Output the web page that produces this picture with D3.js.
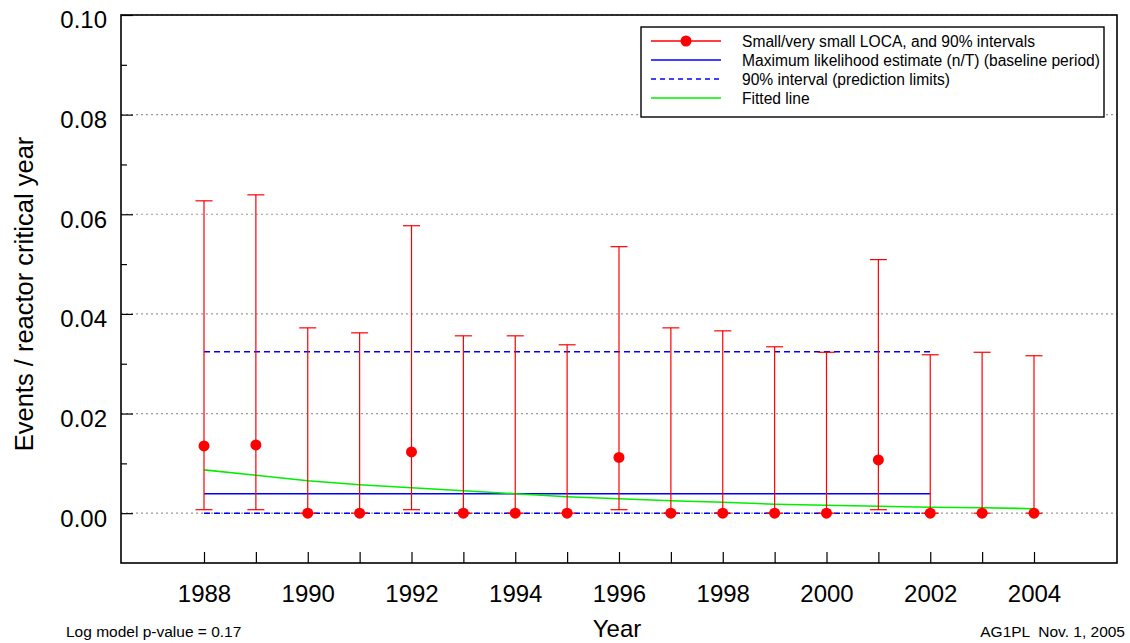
<!DOCTYPE html>
<html>
<head>
<meta charset="utf-8">
<script src="https://cdn.jsdelivr.net/npm/d3@7"></script>
<style>
  body { margin: 0; background: #fff; }
  svg, svg text { font-family: "Liberation Sans", Arial, sans-serif; }
</style>
</head>
<body>
<div id="chart"></div>
<script>
/* data */
const years = [1988, 1989, 1990, 1991, 1992, 1993, 1994, 1995, 1996, 1997, 1998, 1999, 2000, 2001, 2002, 2003, 2004];
const rates = [0.0135, 0.0137, 0, 0, 0.0123, 0, 0, 0, 0.0112, 0, 0, 0, 0, 0.0107, 0, 0, 0];
const upper = [0.0627, 0.0639, 0.0372, 0.0362, 0.0577, 0.0356, 0.0356, 0.0338, 0.0535, 0.0372, 0.0366, 0.0334, 0.0323, 0.0509, 0.0318, 0.0323, 0.0316];
const lower = [0.0007, 0.0007, 0, 0, 0.0007, 0, 0, 0, 0.0007, 0, 0, 0, 0, 0.0007, 0, 0, 0];
const fitted = [0.0087, 0.0076, 0.0065, 0.0057, 0.0051, 0.0045, 0.0039, 0.0033, 0.0029, 0.0025, 0.0022, 0.0018, 0.0016, 0.0014, 0.0012, 0.0011, 0.0009];
const baseline = [1988, 2002];
const mle = 0.0039;
const predLimits = [0, 0.0324];
const yTicks = [0, 0.02, 0.04, 0.06, 0.08, 0.10];
const yMinor = [0.01, 0.03, 0.05, 0.07, 0.09];
const xLabels = [1988, 1990, 1992, 1994, 1996, 1998, 2000, 2002, 2004];
const legendItems = [
  "Small/very small LOCA, and 90% intervals",
  "Maximum likelihood estimate (n/T) (baseline period)",
  "90% interval (prediction limits)",
  "Fitted line"
];

const width = 1130, height = 643;
const plot = { left: 121, top: 15, right: 1117, bottom: 563 };
const fontFamily = '"Liberation Sans", Arial, sans-serif';

var svg = d3.select("#chart").append("svg")
  .attr("width", width)
  .attr("height", height);

/* Scales */
var x = d3.scaleLinear().domain([1986.4, 2005.6]).range([plot.left, plot.right]);
var y = d3.scaleLinear().domain([-0.01, 0.10]).range([plot.bottom, plot.top]);

/* Grid */
svg.append("g")
  .selectAll("line")
  .data(yTicks).enter()
  .append("line")
  .attr("x1", plot.left).attr("x2", plot.right)
  .attr("y1", d => y(d)).attr("y2", d => y(d))
  .style("stroke", "#999")
  .style("stroke-width", 1.2)
  .style("stroke-dasharray", "2,3");

/* Axes */
var yAxis = d3.axisLeft(y).tickValues(yTicks).tickFormat(d3.format(".2f")).tickSize(-12).tickPadding(14);
var yAxisMinor = d3.axisLeft(y).tickValues(yMinor).tickFormat("").tickSize(-6);
var xAxis = d3.axisBottom(x).tickValues(years).tickSize(-11).tickPadding(22)
  .tickFormat(d => xLabels.includes(d) ? d : "");

var gy = svg.append("g").attr("transform", `translate(${plot.left},0)`).call(yAxis);
svg.append("g").attr("transform", `translate(${plot.left},0)`).call(yAxisMinor);
var gx = svg.append("g").attr("transform", `translate(0,${plot.bottom})`).call(xAxis);

svg.selectAll(".domain").remove();
svg.selectAll(".tick line").style("stroke", "#000").style("stroke-width", 1.2);
gy.attr("font-family", fontFamily).attr("font-size", 24);
gx.attr("font-family", fontFamily).attr("font-size", 24);
gy.selectAll("text").attr("fill", "#000").attr("dy", "0.54em");
gx.selectAll("text").attr("fill", "#000");

/* Baseline lines */
svg.append("line")
  .attr("x1", x(baseline[0])).attr("x2", x(baseline[1]))
  .attr("y1", y(mle)).attr("y2", y(mle))
  .style("stroke", "#0000ff").style("stroke-width", 1.6);

svg.selectAll(".pred")
  .data(predLimits).enter()
  .append("line")
  .attr("class", "pred")
  .attr("x1", x(baseline[0])).attr("x2", x(baseline[1]))
  .attr("y1", d => y(d)).attr("y2", d => y(d))
  .style("stroke", "#0000ff").style("stroke-width", 1.6)
  .style("stroke-dasharray", "6,4");

/* Fitted line */
var line = d3.line()
  .x((d, i) => x(years[i]))
  .y(d => y(d));

svg.append("path")
  .attr("d", line(fitted))
  .style("fill", "none")
  .style("stroke", "#00ee00")
  .style("stroke-width", 1.6);

/* Error bars */
var bars = svg.append("g").selectAll("g")
  .data(years).enter()
  .append("g")
  .style("stroke", "#ff0000")
  .style("stroke-width", 1.2);

bars.append("line")
  .attr("x1", d => x(d)).attr("x2", d => x(d))
  .attr("y1", (d, i) => y(lower[i])).attr("y2", (d, i) => y(upper[i]));
bars.append("line")
  .attr("x1", d => x(d) - 8.5).attr("x2", d => x(d) + 8.5)
  .attr("y1", (d, i) => y(upper[i])).attr("y2", (d, i) => y(upper[i]));
bars.append("line")
  .attr("x1", d => x(d) - 8.5).attr("x2", d => x(d) + 8.5)
  .attr("y1", (d, i) => y(lower[i])).attr("y2", (d, i) => y(lower[i]));

svg.append("g").selectAll("circle")
  .data(rates).enter()
  .append("circle")
  .attr("cx", (d, i) => x(years[i]))
  .attr("cy", d => y(d))
  .attr("r", 5.5)
  .style("fill", "#ff0000");

/* Frame */
svg.append("rect")
  .attr("x", plot.left).attr("y", plot.top)
  .attr("width", plot.right - plot.left).attr("height", plot.bottom - plot.top)
  .style("fill", "none")
  .style("stroke", "#000")
  .style("stroke-width", 1.6);

/* Legend */
var legend = svg.append("g").attr("transform", "translate(641,27)");
legend.append("rect")
  .attr("width", 463).attr("height", 90)
  .style("fill", "#fff")
  .style("stroke", "#000")
  .style("stroke-width", 1.4);

var items = legend.selectAll(".item")
  .data(legendItems).enter()
  .append("g")
  .attr("class", "item")
  .attr("transform", (d, i) => `translate(0,${14 + i * 19})`);

items.append("line")
  .attr("x1", 10).attr("x2", 80)
  .style("stroke", (d, i) => i == 0 ? "#ff0000" : i == 3 ? "#00ee00" : "#0000ff")
  .style("stroke-width", 1.4)
  .style("stroke-dasharray", (d, i) => i == 2 ? "5,4" : null);

legend.append("circle")
  .attr("cx", 45).attr("cy", 14).attr("r", 5.5)
  .style("fill", "#ff0000");

items.append("text")
  .attr("x", 101).attr("y", 5.5)
  .style("font-size", "15.6px")
  .text(d => d);

/* Titles */
svg.append("text")
  .attr("transform", "translate(33,294) rotate(-90)")
  .attr("text-anchor", "middle")
  .style("font-size", "25.5px")
  .text("Events / reactor critical year");

svg.append("text")
  .attr("x", 617).attr("y", 637)
  .attr("text-anchor", "middle")
  .style("font-size", "24px")
  .text("Year");

svg.append("text")
  .attr("x", 66).attr("y", 637)
  .style("font-size", "15.5px")
  .text("Log model p-value = 0.17");

svg.append("text")
  .attr("x", 1125).attr("y", 637)
  .attr("text-anchor", "end")
  .style("white-space", "pre")
  .style("font-size", "15.5px")
  .text("AG1PL  Nov. 1, 2005");
</script>
</body>
</html>
